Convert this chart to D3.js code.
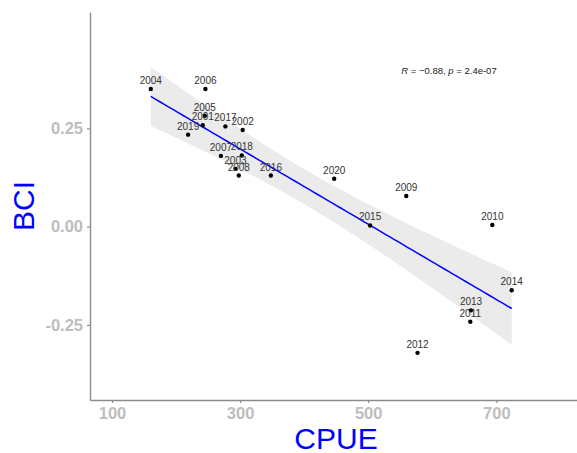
<!DOCTYPE html>
<html>
<head>
<meta charset="utf-8">
<script src="https://cdn.jsdelivr.net/npm/d3@7"></script>
<style>
  body { margin: 0; background: #fff; }
  svg { display: block; font-family: Arial, "Liberation Sans", sans-serif; }
</style>
</head>
<body>
<svg id="chart" width="577" height="453"></svg>
<script>
// data
const years = [2004, 2006, 2005, 2001, 2017, 2002, 2019, 2007, 2018, 2003,
               2008, 2016, 2020, 2009, 2015, 2010, 2014, 2013, 2011, 2012];
const cpue = [160.5, 245.8, 244.8, 241.7, 277, 304, 218.8, 270, 302.6, 292.7,
              297.9, 348, 446.9, 559.4, 503, 693.8, 724, 660.5, 659.4, 577];
const bci = [0.350, 0.350, 0.282, 0.258, 0.255, 0.246, 0.234, 0.180, 0.181, 0.147,
             0.130, 0.130, 0.122, 0.078, 0.003, 0.004, -0.162, -0.213, -0.242, -0.321];
const xTicks = [100, 300, 500, 700];
const yTicks = [-0.25, 0, 0.25];
const statLabel = { r: "\u22120.88", p: "2.4e-07" };

const svg = d3.select("#chart");

const x = d3.scaleLinear().domain([65.6, 826]).range([90, 577]);
const y = d3.scaleLinear().domain([-0.441, 0.546]).range([400, 12]);

const pts = years.map((yr, i) => ({ year: yr, x: cpue[i], y: bci[i] }));

// linear fit + 95% confidence band (like geom_smooth(method = "lm"))
const n = pts.length;
const mx = d3.mean(pts, d => d.x), my = d3.mean(pts, d => d.y);
const sxx = d3.sum(pts, d => (d.x - mx) ** 2);
const sxy = d3.sum(pts, d => (d.x - mx) * (d.y - my));
const slope = sxy / sxx, icpt = my - slope * mx;
const sse = d3.sum(pts, d => (d.y - (icpt + slope * d.x)) ** 2);
const se = Math.sqrt(sse / (n - 2));
const tcrit = 2.101; // df = 18
const [xmin, xmax] = d3.extent(pts, d => d.x);
const band = d3.range(0, 81).map(i => {
  const xv = xmin + (xmax - xmin) * i / 80;
  const fit = icpt + slope * xv;
  const w = tcrit * se * Math.sqrt(1 / n + (xv - mx) ** 2 / sxx);
  return { x: xv, fit, lo: fit - w, hi: fit + w };
});

svg.append("path")
  .datum(band)
  .attr("fill", "#ebebeb")
  .attr("d", d3.area().x(d => x(d.x)).y0(d => y(d.lo)).y1(d => y(d.hi)));

svg.append("path")
  .datum(band)
  .attr("fill", "none")
  .attr("stroke", "#0000ff")
  .attr("stroke-width", 1.5)
  .attr("d", d3.line().x(d => x(d.x)).y(d => y(d.fit)));

// points and year labels
svg.append("g").selectAll("circle")
  .data(pts).join("circle")
  .attr("cx", d => x(d.x)).attr("cy", d => y(d.y))
  .attr("r", 2.2).attr("fill", "#000");

svg.append("g").selectAll("text")
  .data(pts).join("text")
  .attr("x", d => x(d.x)).attr("y", d => y(d.y) - 5)
  .attr("text-anchor", "middle")
  .attr("font-size", 10)
  .attr("fill", "#333")
  .text(d => d.year);

// axes
const axisColor = "#8c8c8c";
const xAxis = svg.append("g").attr("transform", "translate(0,400)")
  .call(d3.axisBottom(x).tickValues(xTicks).tickSize(3).tickSizeOuter(0).tickPadding(4));
const yAxis = svg.append("g").attr("transform", "translate(90,0)")
  .call(d3.axisLeft(y).tickValues(yTicks).tickSize(3).tickSizeOuter(0).tickPadding(4)
    .tickFormat(d => d === 0 ? "0.00" : d3.format(".2f")(d).replace("\u2212", "-")));

[xAxis, yAxis].forEach(g => {
  g.select(".domain").attr("stroke", axisColor).attr("stroke-width", 1.4);
  g.selectAll(".tick line").attr("stroke", axisColor).attr("stroke-width", 1.2);
  g.selectAll(".tick text")
    .attr("fill", "#bdbdbd")
    .attr("font-size", 16.5)
    .attr("font-weight", "bold");
});

// axis titles
svg.append("text")
  .attr("x", 336).attr("y", 449)
  .attr("text-anchor", "middle")
  .attr("font-size", 30)
  .attr("fill", "#0000ff")
  .text("CPUE");

svg.append("text")
  .attr("transform", "translate(34,206) rotate(-90)")
  .attr("text-anchor", "middle")
  .attr("font-size", 30)
  .attr("fill", "#0000ff")
  .text("BCI");

// correlation annotation
const ann = svg.append("text")
  .attr("x", 449).attr("y", 74)
  .attr("text-anchor", "middle")
  .attr("font-size", 9.5)
  .attr("fill", "#222");
ann.append("tspan").attr("font-style", "italic").text("R");
ann.append("tspan").text(` = ${statLabel.r}, `);
ann.append("tspan").attr("font-style", "italic").text("p");
ann.append("tspan").text(` = ${statLabel.p}`);
</script>
</body>
</html>
